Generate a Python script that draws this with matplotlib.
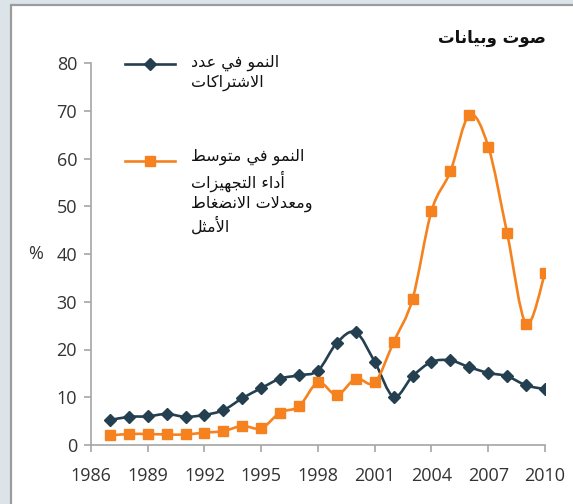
import matplotlib
matplotlib.use("Agg")
import matplotlib.pyplot as plt
from matplotlib.path import Path
from matplotlib.patches import PathPatch, Rectangle
from matplotlib.lines import Line2D
import numpy as np

years = list(range(1987, 2011))
subs_growth = [5.2, 5.9, 6.0, 6.5, 5.9, 6.3, 7.3, 9.8, 11.9, 13.9, 14.6, 15.6,
               21.4, 23.6, 17.4, 10.1, 14.4, 17.4, 17.7, 16.3, 15.1, 14.4, 12.5, 11.7]
perf_growth = [2.0, 2.3, 2.3, 2.2, 2.2, 2.6, 2.9, 4.0, 3.5, 6.8, 8.1, 13.1,
               10.5, 13.9, 13.1, 21.6, 30.6, 49.0, 57.3, 69.1, 62.5, 44.3, 25.4, 36.0]
xticks = [1986, 1989, 1992, 1995, 1998, 2001, 2004, 2007, 2010]
yticks = [0, 10, 20, 30, 40, 50, 60, 70, 80]

title = "صوت وبيانات"
label_subs = "النمو في عدد\nالاشتراكات"
label_perf = "النمو في متوسط\nأداء التجهيزات\nومعدلات الانضغاط\nالأمثل"

BLUE = "#243f50"
ORANGE = "#f5821f"

# --- arabic shaping (matplotlib has no complex text layout) ---
DUAL = {'ئ': 0xFE89, 'ب': 0xFE8F, 'ت': 0xFE95, 'ث': 0xFE99, 'ج': 0xFE9D,
        'ح': 0xFEA1, 'خ': 0xFEA5, 'س': 0xFEB1, 'ش': 0xFEB5, 'ص': 0xFEB9,
        'ض': 0xFEBD, 'ط': 0xFEC1, 'ظ': 0xFEC5, 'ع': 0xFEC9, 'غ': 0xFECD,
        'ف': 0xFED1, 'ق': 0xFED5, 'ك': 0xFED9, 'ل': 0xFEDD, 'م': 0xFEE1,
        'ن': 0xFEE5, 'ه': 0xFEE9, 'ي': 0xFEF1}
RIGHT = {'آ': 0xFE81, 'أ': 0xFE83, 'ؤ': 0xFE85, 'إ': 0xFE87, 'ا': 0xFE8D,
         'ة': 0xFE93, 'د': 0xFEA9, 'ذ': 0xFEAB, 'ر': 0xFEAD, 'ز': 0xFEAF,
         'و': 0xFEED, 'ى': 0xFEEF}
LAMALEF = {'آ': 0xFEF5, 'أ': 0xFEF7, 'إ': 0xFEF9, 'ا': 0xFEFB}


def shape_line(text):
    toks = []
    i = 0
    while i < len(text):
        c = text[i]
        if c == 'ل' and i + 1 < len(text) and text[i + 1] in LAMALEF:
            toks.append(('R', LAMALEF[text[i + 1]]))
            i += 2
            continue
        if c in DUAL:
            toks.append(('D', DUAL[c]))
        elif c in RIGHT:
            toks.append(('R', RIGHT[c]))
        else:
            toks.append(('N', c))
        i += 1
    out = []
    for k, (t, v) in enumerate(toks):
        if t == 'N':
            out.append(v)
            continue
        prev = toks[k - 1][0] if k > 0 else 'N'
        nxt = toks[k + 1][0] if k + 1 < len(toks) else 'N'
        jp = prev == 'D'
        jn = t == 'D' and nxt in ('D', 'R')
        idx = 3 if (jp and jn) else 1 if jp else 2 if jn else 0
        out.append(chr(v + idx))
    return ''.join(out)[::-1]


def ar(text):
    return '\n'.join(shape_line(l) for l in text.split('\n'))


def smooth_path(x, y):
    # catmull-rom through the points, as cubic bezier segments
    p = np.column_stack([x, y]).astype(float)
    n = len(p)
    verts = [p[0]]
    codes = [Path.MOVETO]
    for i in range(n - 1):
        p0 = p[i - 1] if i > 0 else p[i]
        p3 = p[i + 2] if i + 2 < n else p[i + 1]
        c1 = p[i] + (p[i + 1] - p0) / 6.0
        c2 = p[i + 1] - (p3 - p[i]) / 6.0
        verts += [c1, c2, p[i + 1]]
        codes += [Path.CURVE4] * 3
    return Path(verts, codes)


W, H = 573, 504
fig = plt.figure(figsize=(W / 100, H / 100), dpi=100)
fig.patch.set_facecolor("#dde4e9")
fig.add_artist(Rectangle((10.5 / W, -0.1), 1.2, 1.1 - 5 / H, transform=fig.transFigure,
                         facecolor="white", edgecolor="#9c9c9c", linewidth=1.6, zorder=0))

ax = fig.add_axes([91 / W, (H - 445) / H, 454 / W, 382 / H])
ax.set_facecolor("none")

for vals, col, mk, ms in [(subs_growth, BLUE, "D", 6.5), (perf_growth, ORANGE, "s", 7.5)]:
    ax.add_patch(PathPatch(smooth_path(years, vals), facecolor="none", edgecolor=col,
                           linewidth=1.9, zorder=2))
    ax.plot(years, vals, linestyle="none", marker=mk, markersize=ms, color=col, zorder=3)

ax.set_xlim(1986, 2010)
ax.set_ylim(0, 80)
ax.set_xticks(xticks)
ax.set_yticks(yticks)
for s in ["top", "right"]:
    ax.spines[s].set_visible(False)
for s in ["left", "bottom"]:
    ax.spines[s].set_color("#a6a6a6")
    ax.spines[s].set_linewidth(1.2)
ax.tick_params(direction="out", length=5, width=1.2, color="#a6a6a6",
               labelsize=13, labelcolor="#333333")
ax.tick_params(axis="x", pad=11)
ax.tick_params(axis="y", pad=5)
for lab in ax.get_xticklabels() + ax.get_yticklabels():
    lab.set_family("Open Sans")

# legend drawn by hand, to the left of the text
for py, col, mk, ms in [(64, BLUE, "D", 6), (161, ORANGE, "s", 7.5)]:
    fig.add_artist(Line2D([125 / W, 175 / W], [1 - py / H] * 2, color=col, linewidth=1.9,
                          transform=fig.transFigure))
    fig.add_artist(Line2D([150 / W], [1 - py / H], color=col, marker=mk, markersize=ms,
                          linestyle="none", transform=fig.transFigure))

fig.text(191 / W, 1 - 73 / H, ar(label_subs), ha="left", va="center", fontsize=11.5,
         family="DejaVu Sans", linespacing=1.25, color="#111111")
fig.text(191 / W, 1 - 192 / H, ar(label_perf), ha="left", va="center", fontsize=11.5,
         family="DejaVu Sans", linespacing=1.3, color="#111111")
fig.text(492 / W, 1 - 38 / H, ar(title), ha="center", va="center", fontsize=12,
         fontweight="bold", family="DejaVu Sans", color="#111111")
fig.text(36 / W, 1 - 254 / H, "%", ha="center", va="center", fontsize=13,
         family="Open Sans", color="#333333")

fig.savefig("out.png", dpi=100, facecolor=fig.get_facecolor())
